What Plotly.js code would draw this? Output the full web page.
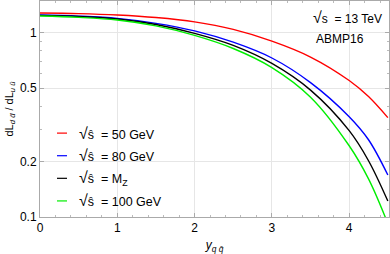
<!DOCTYPE html>
<html><head><meta charset="utf-8">
<script src="https://cdn.plot.ly/plotly-3.0.1.min.js"></script>
<style>html,body{margin:0;padding:0;background:#fff}#c{width:390px;height:254px}</style>
</head><body><div id="c"></div>
<script>
const xVals  = [0, 0.5, 1, 1.5, 2, 2.5, 3, 3.5, 4, 4.25, 4.5];
const xGreen = [0, 0.5, 1, 1.5, 2, 2.5, 3, 3.5, 4, 4.25, 4.47];
const red   = [1.278, 1.269, 1.247, 1.208, 1.145, 1.042, 0.900, 0.738, 0.550, 0.450, 0.346];
const blue  = [1.247, 1.230, 1.196, 1.124, 1.023, 0.888, 0.729, 0.536, 0.350, 0.2625, 0.169];
const black = [1.242, 1.224, 1.187, 1.107, 0.991, 0.853, 0.681, 0.488, 0.294, 0.202, 0.122];
const green = [1.231, 1.211, 1.172, 1.089, 0.967, 0.821, 0.647, 0.447, 0.2435, 0.161, 0.099];
const seriesNames = ["= 50 GeV", "= 80 GeV", "= M<sub>Z</sub>", "= 100 GeV"];
const seriesColors = ["#ff0000", "#0000ff", "#000000", "#00ee00"];
const yTicks = [0.1, 0.2, 0.5, 1];
const yTickText = ["0.1", "0.2", "0.5", "1"];
const yMinor = [0.3, 0.4, 0.6, 0.7, 0.8, 0.9];
const xTicks = [0, 1, 2, 3, 4];

const F = "Liberation Sans, Arial, sans-serif";
const data = [
  {x: xVals, y: red, color: seriesColors[0]},
  {x: xVals, y: blue, color: seriesColors[1]},
  {x: xVals, y: black, color: seriesColors[2]},
  {x: xGreen, y: green, color: seriesColors[3]}
].map((s, i) => ({x: s.x, y: s.y, type: 'scatter', mode: 'lines', line: {color: s.color, width: 1.4, shape: 'spline', smoothing: 1}, name: seriesNames[i], showlegend: false, hoverinfo: 'skip'}));

const shapes = [], annotations = [];
const legY = [132.5, 155, 177.5, 200];
seriesNames.forEach((n, i) => {
  const yp = 1 - (legY[i] - 1) / 215;
  shapes.push({type: 'line', xref: 'paper', yref: 'paper', x0: 17 / 349, x1: 27 / 349, y0: yp, y1: yp, line: {color: seriesColors[i], width: 1.2}});
  annotations.push({xref: 'paper', yref: 'paper', x: 37 / 349, y: yp, xanchor: 'left', yanchor: 'middle', showarrow: false,
    text: "<span style='font-size:16px'>√</span>ŝ&nbsp; " + n, font: {family: F, size: 12.5, color: '#000'}});
});
annotations.push({xref: 'paper', yref: 'paper', x: 344 / 349, y: 1 - 16 / 215, xanchor: 'right', yanchor: 'middle', showarrow: false,
  text: "<span style='font-size:16px'>√</span>s&nbsp; = 13 TeV", font: {family: F, size: 12, color: '#000'}});
annotations.push({xref: 'paper', yref: 'paper', x: 300 / 349, y: 1 - 38 / 215, xanchor: 'center', yanchor: 'middle', showarrow: false,
  text: "ABMP16", font: {family: F, size: 12, color: '#000'}});

const layout = {
  width: 390, height: 254,
  margin: {l: 40, r: 1, t: 1, b: 37},
  paper_bgcolor: '#fff', plot_bgcolor: '#fff',
  font: {family: F, size: 12, color: '#000'},
  xaxis: {range: [0, 4.515], tickvals: xTicks, ticktext: xTicks.map(String), ticks: 'inside', ticklen: 4, tickcolor: '#aaa',
    showline: true, linecolor: '#aaa', linewidth: 1, mirror: 'allticks', showgrid: true, gridcolor: '#e6e6e6', zeroline: false,
    minor: {dtick: 0.2, ticks: 'inside', ticklen: 2, tickcolor: '#bbb', showgrid: false},
    tickfont: {family: F, size: 12}, title: {text: "<i>y</i><sub><i>q q̄</i></sub>", font: {family: F, size: 12}, standoff: 6}},
  yaxis: {type: 'log', range: [-1, 0.172], tickvals: yTicks, ticktext: yTickText, ticks: 'inside', ticklen: 4, tickcolor: '#aaa',
    showline: true, linecolor: '#aaa', linewidth: 1, mirror: 'allticks', showgrid: true, gridcolor: '#e6e6e6', zeroline: false,
    minor: {tickvals: yMinor, ticks: 'inside', ticklen: 2, tickcolor: '#bbb', showgrid: false},
    tickfont: {family: F, size: 12}, title: {text: "dL<sub><i>d d̄</i></sub> / dL<sub><i>u ū</i></sub>", font: {family: F, size: 11}, standoff: 4}},
  shapes: shapes, annotations: annotations
};
Plotly.newPlot('c', data, layout, {staticPlot: true, displayModeBar: false});
</script></body></html>
